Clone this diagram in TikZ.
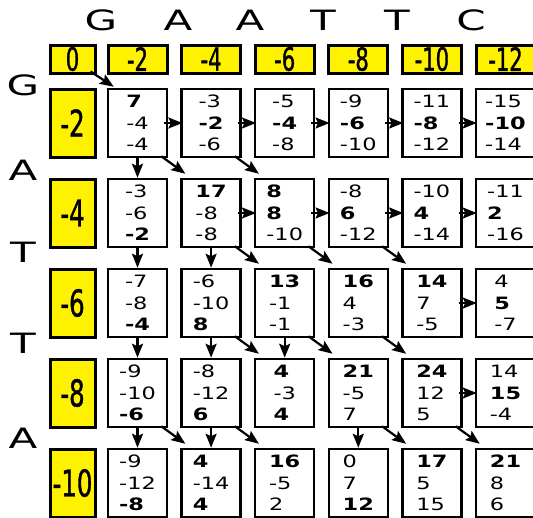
\documentclass[tikz,border=0pt]{standalone}
\usepackage{fontspec}
\usetikzlibrary{arrows.meta}
\newfontfamily\cellfont[FakeStretch=1.32]{DejaVu Sans}
\newfontfamily\scorefont[FakeStretch=0.66,FakeBold=1]{DejaVu Sans}
\newfontfamily\basefont[FakeStretch=1.5]{DejaVu Sans}

\begin{document}
\begin{tikzpicture}[
  x=1pt, y=-1pt,
  cell/.style={draw,line width=2.5pt,minimum width=59pt,minimum height=68pt,inner sep=0pt,align=left,
    font=\cellfont\fontsize{17}{21.5}\selectfont},
  score/.style={draw,line width=3pt,fill=yellow,inner sep=0pt,minimum height=28pt,minimum width=59pt,
    font=\scorefont\fontsize{32}{32}\selectfont},
  gap/.style={score,minimum width=45pt,minimum height=68pt,font=\scorefont\fontsize{37}{37}\selectfont},
  base/.style={font=\basefont\fontsize{28}{28}\selectfont},
  arrow/.style={-{Stealth[length=14pt,width=11pt,inset=2.5pt]},line width=2.2pt}
]
  \useasboundingbox (0,0) rectangle (533,517);

  \foreach \b/\x [count=\i] in {G/101,A/178,A/250,T/323,T/397,C/471}
    \node[base] (t\i) at (\x,20) {\b};
  \foreach \b/\y [count=\i] in {G/85,A/170,T/252,T/343,A/438}
    \node[base] (s\i) at (23,\y) {\b};

  \node[score,minimum width=45pt] (h-0) at (72.5,59) {0};
  \foreach \v [count=\c] in {-2,-4,-6,-8,-10,-12}
    \node[score] (h-\c) at ({137.5+73.6*(\c-1)},59) {\v};
  \foreach \v [count=\r] in {-2,-4,-6,-8,-10}
    \node[gap] (v-\r) at (72.5,{123+90*(\r-1)}) {\v};

  \foreach \t [count=\c] in {{\textbf{7}\\-4\\-4},{-3\\\textbf{-2}\\-6},{-5\\\textbf{-4}\\-8},
      {-9\\\textbf{-6}\\-10},{-11\\\textbf{-8}\\-12},{-15\\\textbf{-10}\\-14}}
    \node[cell] (c-1-\c) at ({137.5+73.6*(\c-1)},123) {\t};
  \foreach \t [count=\c] in {{-3\\-6\\\textbf{-2}},{\textbf{17}\\-8\\-8},{\textbf{8}\\\textbf{8}\\-10},
      {-8\\\textbf{6}\\-12},{-10\\\textbf{4}\\-14},{-11\\\textbf{2}\\-16}}
    \node[cell] (c-2-\c) at ({137.5+73.6*(\c-1)},213) {\t};
  \foreach \t [count=\c] in {{-7\\-8\\\textbf{-4}},{-6\\-10\\\textbf{8}},{\textbf{13}\\-1\\-1},
      {\textbf{16}\\4\\-3},{\textbf{14}\\7\\-5},{4\\\textbf{5}\\-7}}
    \node[cell] (c-3-\c) at ({137.5+73.6*(\c-1)},303) {\t};
  \foreach \t [count=\c] in {{-9\\-10\\\textbf{-6}},{-8\\-12\\\textbf{6}},{\textbf{4}\\-3\\\textbf{4}},
      {\textbf{21}\\-5\\7},{\textbf{24}\\12\\5},{14\\\textbf{15}\\-4}}
    \node[cell] (c-4-\c) at ({137.5+73.6*(\c-1)},393) {\t};
  \foreach \t [count=\c] in {{-9\\-12\\\textbf{-8}},{\textbf{4}\\-14\\\textbf{4}},{\textbf{16}\\-5\\2},
      {0\\7\\\textbf{12}},{\textbf{17}\\5\\15},{\textbf{21}\\8\\6}}
    \node[cell] (c-5-\c) at ({137.5+73.6*(\c-1)},483) {\t};

  \foreach \a/\b in {1-1/1-2,1-2/1-3,1-3/1-4,1-4/1-5,1-5/1-6,2-2/2-3,2-3/2-4,2-4/2-5,2-5/2-6,3-5/3-6,4-5/4-6}
    \draw[arrow] ([xshift=-4pt]c-\a.east) -- ([xshift=2pt]c-\b.west);
  \foreach \a/\b in {1-1/2-1,2-1/3-1,2-2/3-2,3-1/4-1,3-2/4-2,3-3/4-3,4-1/5-1,4-2/5-2,4-4/5-4}
    \draw[arrow] (c-\a.south) -- (c-\b.north);
  \foreach \a/\b in {1-1/2-2,1-2/2-3,2-2/3-3,2-3/3-4,2-4/3-5,3-2/4-3,3-3/4-4,3-4/4-5,4-1/5-2,4-2/5-3,4-4/5-5,4-5/5-6}
    \draw[arrow] ([xshift=-7pt,yshift=2pt]c-\a.south east) -- ([xshift=5pt,yshift=4pt]c-\b.north west);
  \draw[arrow] ([xshift=-6pt,yshift=3pt]h-0.south east) -- ([xshift=7pt,yshift=1pt]c-1-1.north west);
\end{tikzpicture}
\end{document}
